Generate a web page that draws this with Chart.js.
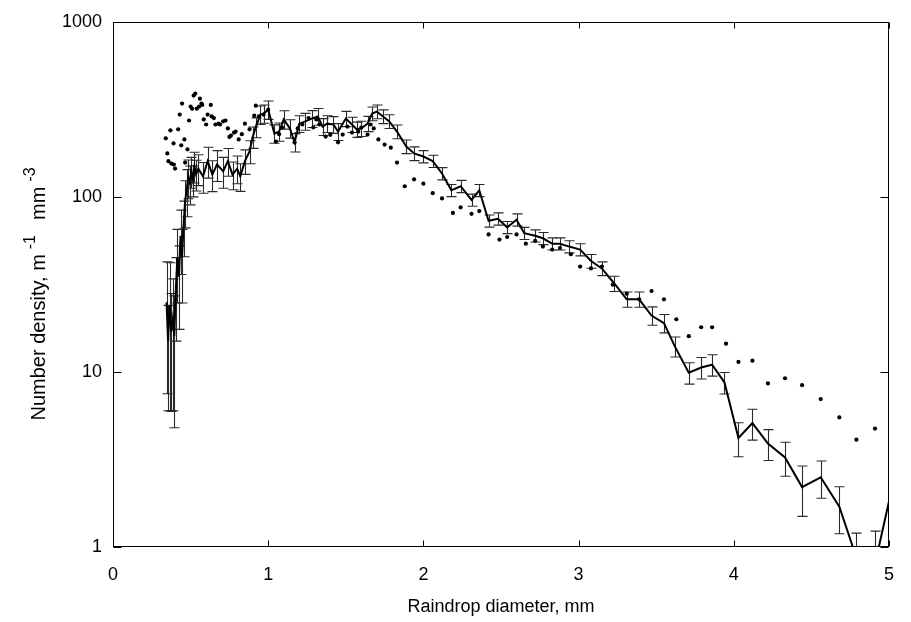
<!DOCTYPE html>
<html>
<head>
<meta charset="utf-8">
<script src="https://cdn.jsdelivr.net/npm/chart.js@4"></script>
<style>
  html, body { margin: 0; background: #fff; }
  #wrap { width: 911px; height: 622px; }
</style>
</head>
<body>
<div id="wrap"><canvas id="c"></canvas></div>
<script>
// measured size distribution (line + error bars)
const lineX = [0.345, 0.355, 0.365, 0.375, 0.385, 0.395, 0.405, 0.415, 0.425, 0.435,
  0.445, 0.455, 0.465, 0.475, 0.485, 0.495, 0.505, 0.515, 0.525, 0.535,
  0.55, 0.58, 0.61, 0.64, 0.67, 0.71, 0.74, 0.77, 0.80, 0.82,
  0.85, 0.88, 0.90, 0.92, 0.95, 0.97, 1.00, 1.04, 1.07, 1.10,
  1.14, 1.17, 1.20, 1.24, 1.28, 1.32, 1.35, 1.38, 1.42, 1.45,
  1.50, 1.54, 1.57, 1.60, 1.64, 1.67, 1.70, 1.74, 1.78, 1.83,
  1.89, 1.94, 2.00, 2.06, 2.12, 2.18, 2.24, 2.31, 2.36, 2.42,
  2.48, 2.54, 2.60, 2.65, 2.72, 2.77, 2.83, 2.88, 2.94, 3.01,
  3.08, 3.15, 3.23, 3.31, 3.39, 3.47, 3.55, 3.62, 3.71, 3.79,
  3.86, 3.94, 4.03, 4.12, 4.22, 4.33, 4.44, 4.56, 4.68, 4.79,
  4.91, 5.03];
const lineY = [25, 15, 24, 17, 20, 16, 30, 45, 35, 60,
  45, 70, 95, 110, 130, 120, 140, 125, 150, 135,
  145, 131, 160, 134, 153, 140, 160, 134, 145, 131,
  160, 182, 220, 250, 295, 299, 315, 230, 236, 277,
  246, 205, 262, 270, 280, 288, 252, 262, 259, 236,
  280, 259, 243, 246, 262, 299, 307, 288, 270, 236,
  194, 177, 170, 160, 136, 109, 115, 96, 109, 73,
  75, 67, 74, 62, 60, 58, 54, 54, 52, 50,
  43, 39, 32, 26, 26, 21, 19, 14, 9.9, 10.6,
  11, 8.7, 4.2, 5.1, 3.9, 3.25, 2.2, 2.5, 1.7, 0.87,
  0.8, 2.4];
// relative error of each point
const lineErr = [0.7, 0.6, 0.75, 0.65, 0.7, 0.7, 0.5, 0.45, 0.5, 0.4,
  0.45, 0.35, 0.3, 0.3, 0.25, 0.25, 0.2, 0.2, 0.2, 0.2,
  0.2, 0.2, 0.2, 0.2, 0.2, 0.2, 0.18, 0.18, 0.18, 0.18,
  0.16, 0.15, 0.14, 0.13, 0.12, 0.12, 0.12, 0.12, 0.12, 0.12,
  0.12, 0.12, 0.11, 0.11, 0.11, 0.11, 0.11, 0.11, 0.11, 0.11,
  0.1, 0.1, 0.1, 0.1, 0.1, 0.09, 0.09, 0.09, 0.09, 0.09,
  0.09, 0.09, 0.08, 0.08, 0.08, 0.08, 0.08, 0.08, 0.08, 0.08,
  0.08, 0.08, 0.08, 0.08, 0.08, 0.08, 0.08, 0.08, 0.08, 0.08,
  0.09, 0.09, 0.1, 0.1, 0.1, 0.12, 0.12, 0.13, 0.14, 0.14,
  0.14, 0.14, 0.22, 0.2, 0.2, 0.22, 0.32, 0.24, 0.3, 0.38,
  0.54, 0.3];

// second distribution (dots)
const dotX = [0.34, 0.35, 0.357, 0.37, 0.376, 0.39, 0.392, 0.40, 0.42, 0.43,
  0.44, 0.445, 0.46, 0.465, 0.48, 0.49, 0.50, 0.51, 0.52, 0.53,
  0.54, 0.555, 0.56, 0.57, 0.575, 0.585, 0.60, 0.61, 0.63, 0.636,
  0.65, 0.66, 0.68, 0.69, 0.71, 0.725, 0.74, 0.75, 0.76, 0.78,
  0.79, 0.81, 0.83, 0.85, 0.88, 0.91, 0.92, 0.94, 0.97, 1.00,
  1.05, 1.07, 1.09, 1.17, 1.19, 1.22, 1.26, 1.29, 1.31, 1.33,
  1.37, 1.40, 1.45, 1.48, 1.51, 1.54, 1.58, 1.60, 1.64, 1.66,
  1.68, 1.71, 1.75, 1.79, 1.83, 1.88, 1.94, 2.00, 2.06, 2.12,
  2.19, 2.24, 2.31, 2.36, 2.42, 2.49, 2.54, 2.60, 2.66, 2.72,
  2.77, 2.83, 2.88, 2.95, 3.01, 3.08, 3.15, 3.22, 3.31, 3.39,
  3.47, 3.55, 3.63, 3.71, 3.79, 3.86, 3.95, 4.03, 4.12, 4.22,
  4.33, 4.44, 4.56, 4.68, 4.79, 4.91];
const dotY = [216, 177, 160, 240, 155, 202, 153, 145, 243, 295,
  197, 341, 213, 157, 187, 273, 328, 319, 379, 389,
  319, 328, 364, 341, 335, 277, 259, 295, 335, 288,
  282, 259, 262, 259, 270, 273, 246, 220, 224, 233,
  236, 213, 228, 262, 243, 291, 332, 288, 295, 315,
  207, 228, 249, 205, 246, 259, 282, 249, 277, 259,
  221, 226, 205, 227, 252, 233, 236, 249, 227, 259,
  246, 213, 199, 191, 157, 115, 126, 119, 105, 98,
  81, 87, 80, 83, 61, 57, 59, 61, 54, 56,
  52, 50, 51, 47, 40, 39, 40, 31.5, 28, 26,
  29, 26, 20, 16, 18, 18, 14.5, 11.4, 11.6, 8.6,
  9.2, 8.4, 7.0, 5.5, 4.1, 4.75];

const xTicks = [0, 1, 2, 3, 4, 5];
const yTicks = [1, 10, 100, 1000];

const FONT = 'Liberation Sans, Arial, sans-serif';

const errorBars = {
  id: 'errorBars',
  beforeDatasetsDraw(chart) {
    const { ctx, chartArea: a, scales: { x, y } } = chart;
    ctx.save();
    ctx.beginPath();
    ctx.rect(a.left, a.top, a.right - a.left, a.bottom - a.top);
    ctx.clip();
    ctx.strokeStyle = '#2a2a2a';
    ctx.lineWidth = 1.1;
    lineX.forEach((d, i) => {
      const px = Math.round(x.getPixelForValue(d)) + 0.5;
      const hi = y.getPixelForValue(lineY[i] * (1 + lineErr[i]));
      const lo = y.getPixelForValue(Math.max(lineY[i] * (1 - lineErr[i]), 0.01));
      ctx.beginPath();
      ctx.moveTo(px, hi);
      ctx.lineTo(px, lo);
      ctx.moveTo(px - 5, hi);
      ctx.lineTo(px + 5, hi);
      ctx.moveTo(px - 5, lo);
      ctx.lineTo(px + 5, lo);
      ctx.stroke();
    });
    ctx.restore();
  }
};

const frame = {
  id: 'frame',
  afterDraw(chart) {
    const { ctx, chartArea: a, scales: { x, y } } = chart;
    ctx.save();
    ctx.strokeStyle = '#000';
    ctx.lineWidth = 1;
    const l = Math.round(a.left) + 0.5, r = Math.round(a.right) - 0.5;
    const t = Math.round(a.top) + 0.5, b = Math.round(a.bottom) - 0.5;
    ctx.strokeRect(l, t, r - l, b - t);
    ctx.beginPath();
    xTicks.forEach(v => {
      const px = Math.round(x.getPixelForValue(v)) + 0.5;
      ctx.moveTo(px, b); ctx.lineTo(px, b - 6);
      ctx.moveTo(px, t); ctx.lineTo(px, t + 6);
    });
    yTicks.forEach(v => {
      const py = Math.round(y.getPixelForValue(v)) + 0.5;
      ctx.moveTo(l, py); ctx.lineTo(l + 8, py);
      ctx.moveTo(r, py); ctx.lineTo(r - 8, py);
    });
    ctx.stroke();

    // y axis title with superscript units
    const parts = [
      ['Number density, m', 20, 0, 0],
      ['-1', 16, -10, 5],
      ['mm', 20, 0, 15],
      ['-3', 16, -10, 5]
    ];
    let total = 0;
    parts.forEach(p => {
      ctx.font = p[1] + 'px ' + FONT;
      total += p[3] + ctx.measureText(p[0]).width;
    });
    ctx.translate(45, 294);
    ctx.rotate(-Math.PI / 2);
    ctx.fillStyle = '#000';
    ctx.textBaseline = 'alphabetic';
    ctx.textAlign = 'left';
    let pos = -total / 2;
    parts.forEach(p => {
      ctx.font = p[1] + 'px ' + FONT;
      pos += p[3];
      ctx.fillText(p[0], pos, p[2]);
      pos += ctx.measureText(p[0]).width;
    });
    ctx.restore();
  }
};

new Chart(document.getElementById('c'), {
  type: 'scatter',
  data: {
    datasets: [{
      type: 'line',
      label: 'measured',
      data: lineX.map((d, i) => ({ x: d, y: lineY[i] })),
      borderColor: '#000',
      borderWidth: 2,
      pointRadius: 0,
      tension: 0,
      fill: false
    }, {
      label: 'model',
      data: dotX.map((d, i) => ({ x: d, y: dotY[i] })),
      backgroundColor: '#000',
      borderColor: '#000',
      pointRadius: 2.1,
      borderWidth: 0
    }]
  },
  options: {
    animation: false,
    responsive: true,
    maintainAspectRatio: false,
    layout: { padding: { top: 20, right: 7, left: 4, bottom: 4 } },
    plugins: {
      legend: { display: false },
      tooltip: { enabled: false }
    },
    scales: {
      x: {
        type: 'linear',
        min: 0,
        max: 5,
        grid: { display: false, drawTicks: false },
        border: { display: false },
        afterBuildTicks(scale) { scale.ticks = xTicks.map(v => ({ value: v })); },
        afterFit(scale) { scale.height = 71; },
        ticks: { color: '#000', padding: 17, font: { family: FONT, size: 18 }, maxRotation: 0 },
        title: {
          display: true,
          text: 'Raindrop diameter, mm',
          color: '#000',
          font: { family: FONT, size: 18 },
          padding: { top: 10, bottom: 0 }
        }
      },
      y: {
        type: 'logarithmic',
        min: 1,
        max: 1000,
        grid: { display: false, drawTicks: false },
        border: { display: false },
        afterBuildTicks(scale) { scale.ticks = yTicks.map(v => ({ value: v })); },
        afterFit(scale) { scale.width = 109; },
        ticks: {
          color: '#000',
          padding: 11,
          font: { family: FONT, size: 18 },
          callback: v => String(v)
        }
      }
    }
  },
  plugins: [errorBars, frame]
});
</script>
</body>
</html>
